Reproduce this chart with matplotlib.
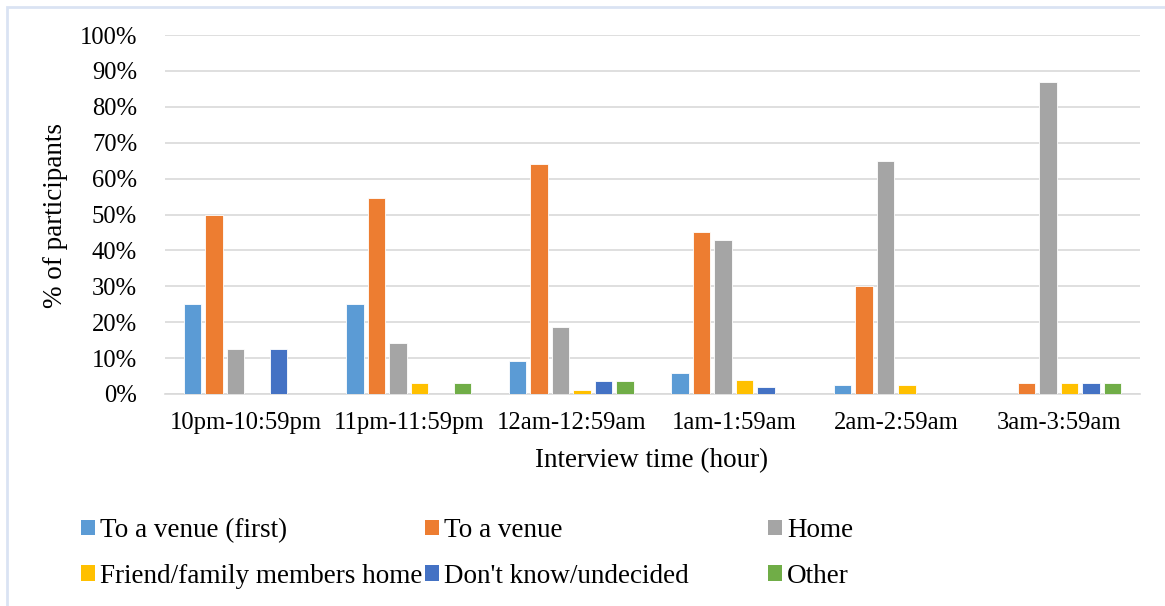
import matplotlib.pyplot as plt
from matplotlib.patches import Patch, Rectangle
import numpy as np

# Share of participants by intended destination, per interview hour
hours = ["10pm-10:59pm", "11pm-11:59pm", "12am-12:59am", "1am-1:59am", "2am-2:59am", "3am-3:59am"]

venue_first = [25.0, 25.0, 9.3, 5.9, 2.5, 0.0]
venue = [50.0, 54.7, 64.0, 45.0, 30.0, 3.2]
home = [12.5, 14.1, 18.6, 43.0, 65.0, 87.0]
friend_home = [0.0, 3.1, 1.1, 3.9, 2.5, 3.2]
undecided = [12.5, 0.0, 3.5, 2.0, 0.0, 3.2]
other = [0.0, 3.1, 3.5, 0.0, 0.0, 3.2]

series = [
    ("To a venue (first)", venue_first, "#5B9BD5"),
    ("To a venue", venue, "#ED7D31"),
    ("Home", home, "#A5A5A5"),
    ("Friend/family members home", friend_home, "#FFC000"),
    ("Don't know/undecided", undecided, "#4472C4"),
    ("Other", other, "#70AD47"),
]

plt.rcParams['font.family'] = ['Liberation Serif', 'DejaVu Serif']
TICK_FS = 17.7
LABEL_FS = 19.5

W, H = 1165, 606
fig = plt.figure(figsize=(W / 100, H / 100), dpi=100)
ax = fig.add_axes([165 / W, 1 - 394 / H, (1140 - 165) / W, (394 - 35) / H])

x = np.arange(len(hours))
pitch = 0.1323
width = 0.106
for i, (name, vals, color) in enumerate(series):
    ax.bar(x + (i - 2.5) * pitch, np.array(vals) / 100, width, color=color,
           edgecolor="white", linewidth=0.6, zorder=3, label=name)

ax.set_xlim(-0.5, len(hours) - 0.5)
ax.set_ylim(0, 1)
yt = np.arange(0, 1.01, 0.1)
ax.set_yticks(yt)
ax.set_yticklabels([f"{int(round(v * 100))}%" for v in yt], fontsize=TICK_FS)
ax.set_xticks(x)
ax.set_xticklabels(hours, fontsize=TICK_FS)
ax.tick_params(axis="x", length=0, pad=13)
ax.tick_params(axis="y", length=0, pad=20)
ax.grid(axis="y", color="#D9D9D9", linewidth=1.2, zorder=0)
for side in ["top", "right", "left"]:
    ax.spines[side].set_visible(False)
ax.spines["bottom"].set_color("#D9D9D9")
ax.spines["bottom"].set_linewidth(1.2)

# Axis titles
fig.text(652 / W, 1 - 461 / H, "Interview time (hour)", fontsize=LABEL_FS,
         ha="center", va="center")
fig.text(55 / W, 1 - 215 / H, "% of participants", fontsize=LABEL_FS, rotation=90,
         ha="center", va="center")

# Legend: three columns, each holding two entries
cols = [(0, 3), (1, 4), (2, 5)]
col_x = [81, 425, 768]
for (a, b), cx in zip(cols, col_x):
    handles = [Patch(facecolor=series[k][2], edgecolor="none") for k in (a, b)]
    labels = [series[k][0] for k in (a, b)]
    fig.legend(handles, labels, loc="upper left", bbox_to_anchor=(cx / W, 1 - 518 / H),
               frameon=False, fontsize=LABEL_FS, handlelength=0.52, handleheight=0.52,
               handletextpad=0.18, labelspacing=0.77, borderpad=0, borderaxespad=0)

# Chart frame
fig.patches.append(Rectangle((7 / W, -0.01), 1.05, 1 - 7 / H + 0.01, transform=fig.transFigure,
                             fill=False, edgecolor="#DAE3F3", linewidth=2))

fig.savefig("out.png", dpi=100)
